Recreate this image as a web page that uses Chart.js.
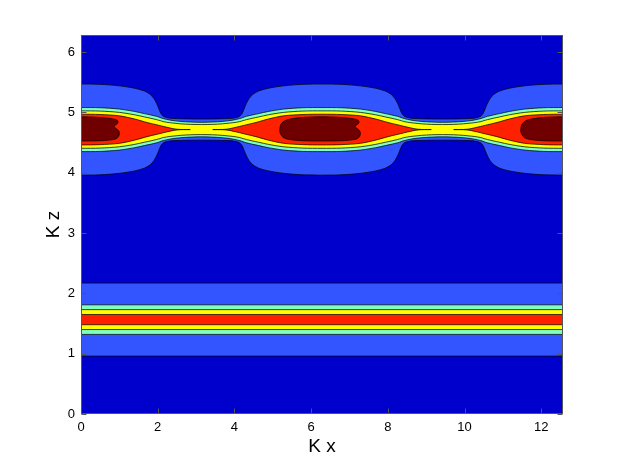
<!DOCTYPE html>
<html>
<head>
<meta charset="utf-8">
<script src="https://cdn.jsdelivr.net/npm/chart.js@4.4.1/dist/chart.umd.min.js"></script>
<style>
html,body{margin:0;padding:0;background:#ffffff;}
canvas{display:block;}
</style>
</head>
<body>
<canvas id="c" width="622" height="468"></canvas>
<script>
// ---- axis limits and ticks ----
const kxLimits = [0, 12.566];
const kzLimits = [0, 6.283];
const kxTicks = [0, 2, 4, 6, 8, 10, 12];
const kzTicks = [0, 1, 2, 3, 4, 5, 6];

// ---- filled contour levels (lowest level = background) ----
const levelColors = ['#3355ff', '#80ffc0', '#ffff00', '#ff2000', '#700000'];
const backgroundLevelColor = '#0000cc';

// Lower band (flat along Kx): Kz of lower and upper edge of levels 1..4
const lowerBandLow  = [0.96, 1.32, 1.40, 1.48];
const lowerBandHigh = [2.17, 1.81, 1.73, 1.65];

// Upper band: centre line and the Kx of its three lobes
const upperBandCentre = 4.715;
const lobeCentres = [0, 6.283, 12.566];
// Kx distance from a lobe centre at which the half widths were read
const profileDist = [0, 0.5, 1.0, 1.4, 1.65, 1.8, 1.9, 1.97, 2.02, 2.06, 2.10, 2.16, 2.3, 2.45, 2.6, 2.85, 3.1416];
const halfWidth1 = [0.755, 0.750, 0.725, 0.685, 0.640, 0.585, 0.515, 0.435, 0.360, 0.295, 0.250, 0.215, 0.190, 0.183, 0.180, 0.176, 0.175];
const halfWidth2 = [0.365, 0.362, 0.340, 0.300, 0.265, 0.245, 0.230, 0.220, 0.210, 0.200, 0.190, 0.180, 0.160, 0.145, 0.135, 0.125, 0.120];
const halfWidth3 = [0.310, 0.307, 0.285, 0.245, 0.210, 0.190, 0.175, 0.165, 0.155, 0.150, 0.140, 0.130, 0.115, 0.105, 0.095, 0.086, 0.083];
const halfWidth4 = [0.255, 0.250, 0.228, 0.175, 0.130, 0.105, 0.090, 0.080, 0.072, 0.066, 0.060, 0.050, 0.030, 0.010, 0.002, 0.000, null];
// Level 5 core outline round each lobe centre: Kx offset and Kz
const core5Dx = [-1.10, -1.08, -1.02, -0.90, -0.60, -0.20, 0.20, 0.50, 0.75, 0.88, 0.94, 0.965, 0.95, 0.90, 0.86, 0.88, 0.94, 0.99, 1.00, 0.98, 0.92, 0.80, 0.50, 0.00, -0.50, -0.85, -1.00, -1.07, -1.10, -1.10];
const core5Kz = [4.72, 4.79, 4.84, 4.88, 4.91, 4.925, 4.925, 4.915, 4.90, 4.885, 4.87, 4.845, 4.815, 4.79, 4.775, 4.75, 4.72, 4.685, 4.645, 4.60, 4.565, 4.545, 4.53, 4.525, 4.53, 4.55, 4.58, 4.63, 4.68, 4.72];

// ---- build polygons from the read values ----
function continuousBand(h) {
  const seq = [];
  lobeCentres.forEach((c, i) => {
    for (let k = profileDist.length - (i > 0 ? 2 : 1); k >= 1; k--) seq.push([c - profileDist[k], h[k]]);
    seq.push([c, h[0]]);
    if (i < lobeCentres.length - 1) {
      for (let k = 1; k < profileDist.length; k++) seq.push([c + profileDist[k], h[k]]);
    } else {
      for (let k = 1; k < profileDist.length; k++) seq.push([c + profileDist[k], h[k]]);
    }
  });
  const inRange = seq.filter(([x]) => x >= kxLimits[0] - 1.0 && x <= kxLimits[1] + 1.0);
  const top = inRange.map(([x, w]) => ({x: x, y: upperBandCentre + w}));
  const bot = inRange.slice().reverse().map(([x, w]) => ({x: x, y: upperBandCentre - w}));
  return top.concat(bot);
}
function lobeBand(c, h) {
  const idx = [];
  profileDist.forEach((d, k) => { if (h[k] !== null) idx.push(k); });
  const side = [];
  for (let j = idx.length - 1; j >= 1; j--) side.push([-profileDist[idx[j]], h[idx[j]]]);
  side.push([0, h[0]]);
  for (let j = 1; j < idx.length; j++) side.push([profileDist[idx[j]], h[idx[j]]]);
  const top = side.map(([d, w]) => ({x: c + d, y: upperBandCentre + w}));
  const bot = side.slice().reverse().map(([d, w]) => ({x: c + d, y: upperBandCentre - w}));
  const pts = top.concat(bot.slice(1));
  pts.push(top[0]);
  return pts;
}
function coreLobe(c) {
  return core5Dx.map((dx, i) => ({x: c + dx, y: core5Kz[i]}));
}
function flatBand(lo, hi) {
  return [{x: kxLimits[0] - 1, y: lo}, {x: kxLimits[1] + 1, y: lo}, {x: kxLimits[1] + 1, y: hi}, {x: kxLimits[0] - 1, y: hi}];
}

const polys = [];
lowerBandLow.forEach((lo, i) => polys.push({data: flatBand(lo, lowerBandHigh[i]), color: levelColors[i], tension: 0}));
[halfWidth1, halfWidth2, halfWidth3].forEach((h, i) => polys.push({data: continuousBand(h), color: levelColors[i], tension: 0.3}));
lobeCentres.forEach(c => polys.push({data: lobeBand(c, halfWidth4), color: levelColors[3], tension: 0.3}));
lobeCentres.forEach(c => polys.push({data: coreLobe(c), color: levelColors[4], tension: 0.3}));

const datasets = polys.map((p, i) => ({
  data: p.data,
  backgroundColor: p.color,
  borderColor: 'rgba(0,0,0,0.72)',
  borderWidth: 1,
  fill: 'shape',
  pointRadius: 0,
  tension: p.tension,
  clip: 0,
  order: polys.length - i
}));

const frame = {
  id: 'frame',
  beforeDatasetsDraw(chart) {
    const {ctx, chartArea: a} = chart;
    ctx.save();
    ctx.fillStyle = backgroundLevelColor;
    ctx.fillRect(a.left, a.top, a.right - a.left, a.bottom - a.top);
    ctx.restore();
  },
  afterDatasetsDraw(chart) {
    const {ctx, chartArea: a, scales} = chart;
    ctx.save();
    ctx.strokeStyle = '#555555';
    ctx.lineWidth = 1;
    const L = Math.round(a.left) + 0.5, R = Math.round(a.right) - 0.5;
    const T = Math.round(a.top) + 0.5, B = Math.round(a.bottom) - 0.5;
    ctx.strokeRect(L, T, R - L, B - T);
    ctx.beginPath();
    kxTicks.forEach(v => {
      const px = Math.round(scales.x.getPixelForValue(v)) + 0.5;
      ctx.moveTo(px, B); ctx.lineTo(px, B - 5);
      ctx.moveTo(px, T); ctx.lineTo(px, T + 5);
    });
    kzTicks.forEach(v => {
      const py = Math.round(scales.y.getPixelForValue(v)) + 0.5;
      ctx.moveTo(L, py); ctx.lineTo(L + 5, py);
      ctx.moveTo(R, py); ctx.lineTo(R - 5, py);
    });
    ctx.stroke();
    ctx.restore();
  }
};

const fontFamily = '"Liberation Sans", Arial, Helvetica, sans-serif';
new Chart(document.getElementById('c'), {
  type: 'line',
  data: {datasets: datasets},
  plugins: [frame],
  options: {
    responsive: false,
    animation: false,
    events: [],
    layout: {padding: {left: 0, right: 59, top: 35, bottom: 0}},
    plugins: {legend: {display: false}, tooltip: {enabled: false}},
    scales: {
      x: {
        type: 'linear',
        min: kxLimits[0], max: kxLimits[1],
        afterBuildTicks: s => { s.ticks = kxTicks.map(v => ({value: v})); },
        afterFit: s => { s.height = 54; },
        grid: {display: false, drawTicks: false},
        border: {display: false},
        ticks: {color: '#000', padding: 6, maxRotation: 0, font: {family: fontFamily, size: 13}},
        title: {display: true, text: 'K x', color: '#000', padding: {top: 0, bottom: 10}, font: {family: fontFamily, size: 19}}
      },
      y: {
        type: 'linear',
        min: kzLimits[0], max: kzLimits[1],
        afterBuildTicks: s => { s.ticks = kzTicks.map(v => ({value: v})); },
        afterFit: s => { s.width = 81; },
        grid: {display: false, drawTicks: false},
        border: {display: false},
        ticks: {color: '#000', padding: 6, font: {family: fontFamily, size: 13}},
        title: {display: true, text: 'K z', color: '#000', padding: {top: 42, bottom: 0}, font: {family: fontFamily, size: 19}}
      }
    }
  }
});
</script>
</body>
</html>
